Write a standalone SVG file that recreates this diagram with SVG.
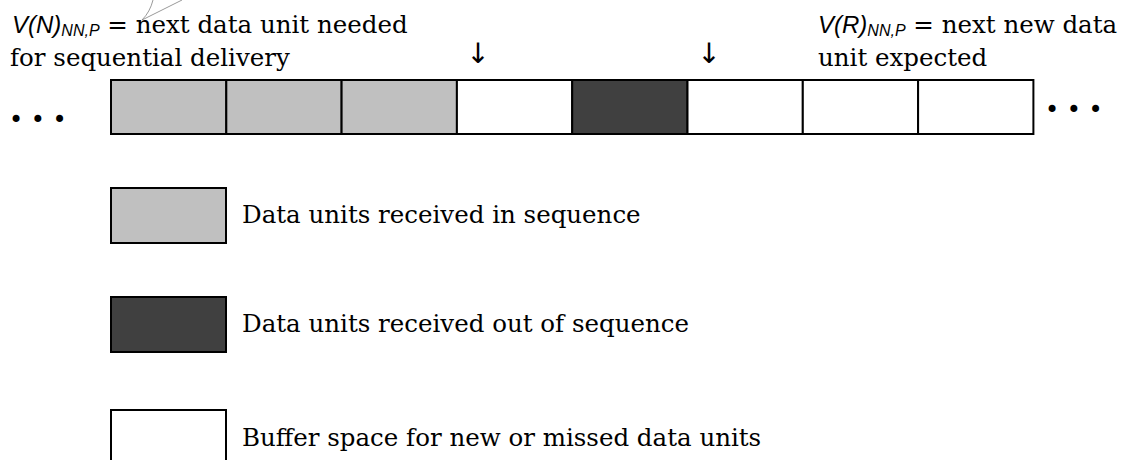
<svg xmlns="http://www.w3.org/2000/svg" width="1130" height="460" viewBox="0 0 1130 460">
  <style>
    .txt { font-family: "DejaVu Serif", "Liberation Serif", serif; font-size: 24.5px; fill: #000; }
    .var { font-family: "Liberation Sans", "DejaVu Sans", sans-serif; font-style: italic; font-size: 24px; }
    .sub { font-family: "Liberation Sans", "DejaVu Sans", sans-serif; font-style: italic; font-size: 16px; }
    .arrow { font-family: "DejaVu Sans", sans-serif; font-size: 28px; fill: #000; }
    .dots { font-family: "DejaVu Sans", "Liberation Sans", sans-serif; font-size: 24px; fill: #000; }
    .cell { stroke: #000; stroke-width: 2; }
    .inseq { fill: #C0C0C0; }
    .outseq { fill: #404040; }
    .free { fill: #FFFFFF; }
    .callout { fill: none; stroke: #808080; stroke-width: 0.8; }
  </style>

  <rect width="1130" height="460" fill="#FFFFFF"/>

  <!-- pointer labels -->
  <g id="label-vn">
    <text class="txt" x="12" y="33"><tspan class="var">V(N)</tspan><tspan class="sub" dy="3">NN,P</tspan><tspan dy="-3"> = next data unit needed</tspan></text>
    <text class="txt" x="10" y="66">for sequential delivery</text>
  </g>
  <g id="label-vr">
    <text class="txt" x="818" y="33"><tspan class="var">V(R)</tspan><tspan class="sub" dy="3">NN,P</tspan><tspan dy="-3"> = next new data</tspan></text>
    <text class="txt" x="818" y="66">unit expected</text>
  </g>

  <g id="connectors">
    <path class="callout" d="M142,20 Q150,12 153,0"/>
    <path class="callout" d="M142,20 L182,0"/>
    <text class="arrow" x="478" y="63" text-anchor="middle">↓</text>
    <text class="arrow" x="709" y="63" text-anchor="middle">↓</text>
  </g>

  <!-- receive buffer -->
  <g id="buffer">
    <text class="dots" x="9" y="128">• • •</text>
    <rect class="cell inseq" x="111" y="80" width="115.3" height="54"/>
    <rect class="cell inseq" x="226.3" y="80" width="115.3" height="54"/>
    <rect class="cell inseq" x="341.6" y="80" width="115.3" height="54"/>
    <rect class="cell free" x="456.9" y="80" width="115.3" height="54"/>
    <rect class="cell outseq" x="572.2" y="80" width="115.3" height="54"/>
    <rect class="cell free" x="687.5" y="80" width="115.3" height="54"/>
    <rect class="cell free" x="802.8" y="80" width="115.3" height="54"/>
    <rect class="cell free" x="918.1" y="80" width="115.3" height="54"/>
    <text class="dots" x="1045" y="118">• • •</text>
  </g>

  <!-- legend -->
  <g id="legend-inseq">
    <rect class="cell inseq" x="111" y="188" width="115" height="55"/>
    <text class="txt" x="242" y="223">Data units received in sequence</text>
  </g>
  <g id="legend-outseq">
    <rect class="cell outseq" x="111" y="297" width="115" height="55"/>
    <text class="txt" x="242" y="332">Data units received out of sequence</text>
  </g>
  <g id="legend-free">
    <rect class="cell free" x="111" y="410" width="115" height="55"/>
    <text class="txt" x="242" y="446">Buffer space for new or missed data units</text>
  </g>
</svg>
